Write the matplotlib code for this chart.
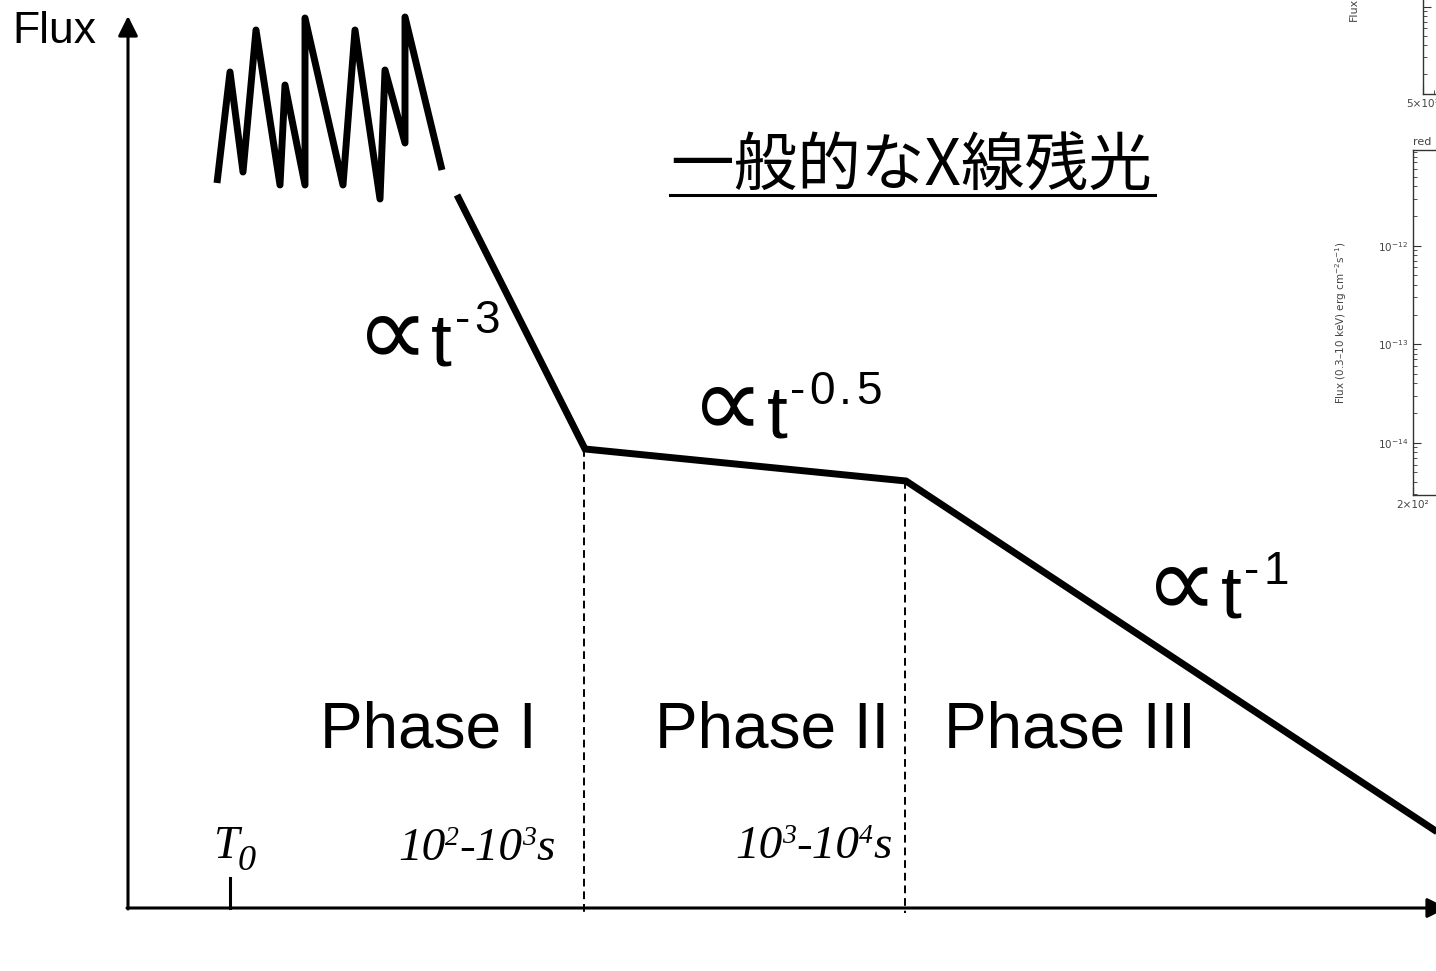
import matplotlib.pyplot as plt

# schematic light curve, units (x grows right, y grows down)
flare_t = [217, 230, 243, 256, 280, 285, 305, 305, 343, 355, 380, 385, 405, 405, 442]
flare_f = [183, 72, 172, 30, 185, 85, 185, 18, 185, 30, 199, 70, 143, 17, 170]

decay_t = [457, 585, 906, 1460]
decay_f = [195, 449, 481, 847]

phase_names = ['Phase I', 'Phase II', 'Phase III']
slope_sups = ['-3', '-0.5', '-1']
title_jp = '一般的なX線残光'

sans = ['Liberation Sans', 'DejaVu Sans']
serif = ['Liberation Serif', 'DejaVu Serif']

fig = plt.figure(figsize=(14.36, 9.71), dpi=100)
ax = fig.add_axes([0, 0, 1, 1])
ax.set_xlim(0, 1436)
ax.set_ylim(971, 0)
ax.axis('off')
renderer = fig.canvas.get_renderer()


def chain(x, y, pieces, **kw):
    # write text pieces one after another: (string, size, baseline shift, gap[, family])
    for p in pieces:
        s, size, dy, gap = p[:4]
        extra = dict(kw)
        if len(p) > 4:
            extra['family'] = p[4]
        t = ax.text(x + gap, y + dy, s, size=size, ha='left', va='baseline', **extra)
        bb = t.get_window_extent(renderer)
        x = ax.transData.inverted().transform((bb.x1, 0))[0]
    return x


# axes arrows
arrow = dict(arrowstyle='-|>', lw=2.2, color='k', mutation_scale=30, shrinkA=0, shrinkB=0)
ax.annotate('', xy=(128, 16), xytext=(128, 909), arrowprops=arrow, annotation_clip=False)
ax.annotate('', xy=(1447, 908), xytext=(127, 908), arrowprops=arrow, annotation_clip=False)
ax.plot([230, 230], [878, 908], color='k', lw=2.2)
ax.text(12, 43, 'Flux', size=32, family=sans, va='baseline')

# prompt emission and decay
ax.plot(flare_t, flare_f, color='k', lw=5, solid_joinstyle='round', solid_capstyle='butt')
ax.plot(decay_t, decay_f, color='k', lw=5, solid_joinstyle='miter', solid_capstyle='butt')

for i in (1, 2):
    ax.plot([decay_t[i] - 1, decay_t[i] - 1], [decay_f[i], 913], color='k', lw=1.4,
            linestyle=(0, (4, 2.5)))

# slope labels (the slide text is a bit wide, so the exponent is spaced out)
slope_pos = [(356, 366), (691, 437), (1145, 617)]
for (x, y), s in zip(slope_pos, slope_sups):
    pieces = [('∝', 74, -1, 0, 'DejaVu Sans'), ('t', 54, 0, 2)]
    for k, ch in enumerate(s):
        pieces.append((ch, 33, -33, 3 if k == 0 else 4))
    chain(x, y, pieces, family=sans)

for x, name in zip([320, 655, 944], phase_names):
    ax.text(x, 748, name, size=46, family=sans, va='baseline')

# title with underline
tt = ax.text(670, 185, title_jp, size=45.8, va='baseline',
             family=['Noto Sans CJK JP', 'DejaVu Sans'])
bb = tt.get_window_extent(renderer)
x0 = ax.transData.inverted().transform((bb.x0, 0))[0]
x1 = ax.transData.inverted().transform((bb.x1, 0))[0]
ax.plot([x0, x1 + 3], [195, 195], color='k', lw=2.2)

# time labels
tkw = dict(family=serif, style='italic')
chain(214, 858, [('T', 33, 0, 0), ('0', 26, 12, -2)], **tkw)
chain(398, 860, [('10', 34, 0, 0), ('2', 20, -15, 0), ('-10', 34, 0, 0),
                 ('3', 20, -15, 0), ('s', 34, 0, 0)], **tkw)
chain(735, 858, [('10', 34, 0, 0), ('3', 20, -15, 0), ('-10', 34, 0, 0),
                 ('4', 20, -15, 0), ('s', 34, 0, 0)], **tkw)

# cropped light-curve figures at the right edge
W, H = 1436, 971
AW = 0.3 * W
grey = '#333333'
ax_top = fig.add_axes([1423 / W, (H - 94) / H, 0.3, 170 / H])
ax_low = fig.add_axes([1413 / W, (H - 495) / H, 0.3, 345 / H])
for a in (ax_top, ax_low):
    a.set_xscale('log')
    a.set_yscale('log')
    for sp in a.spines.values():
        sp.set_color(grey)
        sp.set_linewidth(1.0)
    a.tick_params(which='both', direction='in', colors=grey, labelsize=7.5,
                  labelcolor='#444444', right=False, top=False)
    a.tick_params(which='major', length=6)
    a.tick_params(which='minor', length=3)

ax_top.set_xlim(50, 5e4)
ax_top.set_ylim(10 ** -11.9, 10 ** -10.15)
ax_top.set_xticks([50])
ax_top.set_xticklabels(['5×10¹'])
ax_top.set_xticklabels([], minor=True)
ax_top.set_yticklabels([], minor=True)
ax_top.set_yticklabels([])
ax_top.set_ylabel('Flux', size=8, color='#444444')
ax_top.yaxis.set_label_coords((1359 - 1423) / AW, 0.5)

ax_low.set_xlim(200, 2e5)
ax_low.set_ylim(10 ** -14.53, 10 ** -11.03)
ax_low.set_xticks([200])
ax_low.set_xticklabels(['2×10²'])
ax_low.set_xticklabels([], minor=True)
ax_low.set_ylabel(r'Flux (0.3–10 keV) erg cm$^{-2}$s$^{-1}$)', size=7.5, color='#444444')
ax_low.yaxis.set_label_coords((1349 - 1413) / AW, 0.5)
ax_low.text(0, 1.015, 'red', transform=ax_low.transAxes, size=8, color='#444444')

fig.savefig('out.png', dpi=100)
